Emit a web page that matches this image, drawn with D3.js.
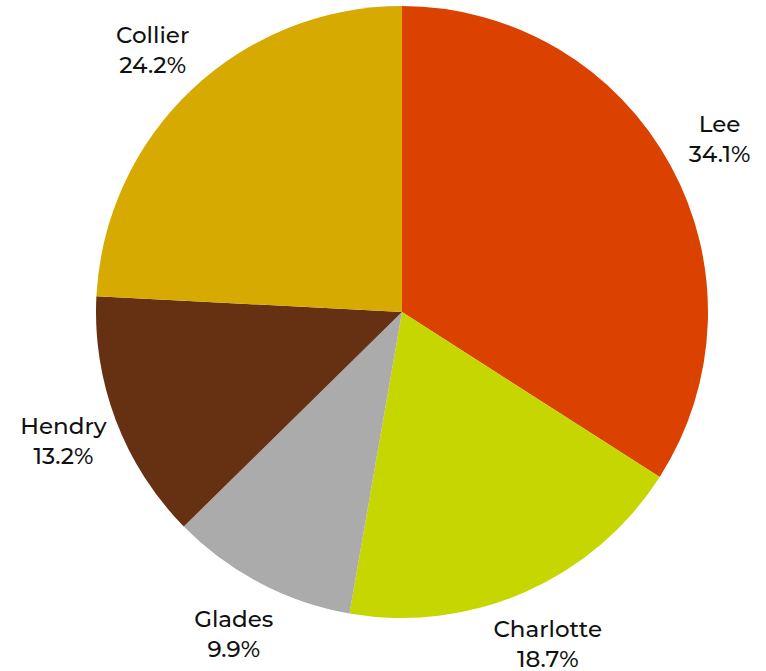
<!DOCTYPE html>
<html>
<head>
<meta charset="utf-8">
<script src="https://cdn.jsdelivr.net/npm/d3@7"></script>
<style>
  html, body { margin: 0; padding: 0; background: #ffffff; }
  svg { display: block; }
</style>
</head>
<body>
<svg id="chart" width="766" height="671"></svg>
<script>
const categories = ["Lee", "Charlotte", "Glades", "Hendry", "Collier"];
const values = [34.1, 18.7, 9.9, 13.2, 24.2];
const labels = ["34.1%", "18.7%", "9.9%", "13.2%", "24.2%"];
const colors = ["#DB4200", "#C5D600", "#ABABAB", "#663012", "#D6AA00"];

const data = categories.map((c, i) => ({ name: c, value: values[i], label: labels[i], color: colors[i] }));

const svg = d3.select("#chart");
const cx = 402, cy = 312, r = 306, labelR = 362;

const pie = d3.pie().value(d => d.value).sort(null);
const arc = d3.arc().innerRadius(0).outerRadius(r);
const labelArc = d3.arc().innerRadius(labelR).outerRadius(labelR);

const g = svg.append("g").attr("transform", `translate(${cx},${cy})`);
const arcs = pie(data);

g.selectAll("path").data(arcs).join("path")
  .attr("d", arc)
  .attr("fill", d => d.data.color);

const lab = g.selectAll("text").data(arcs).join("text")
  .attr("text-anchor", "middle")
  .attr("font-family", "Montserrat, 'Open Sans', sans-serif")
  .attr("font-size", 23)
  .attr("font-weight", 500)
  .attr("fill", "#111111")
  .attr("transform", d => { const [x, y] = labelArc.centroid(d); return `translate(${x},${y})`; });

lab.append("tspan").attr("x", 0).attr("y", -6).text(d => d.data.name);
lab.append("tspan").attr("x", 0).attr("y", 24).text(d => d.data.label);
</script>
</body>
</html>
